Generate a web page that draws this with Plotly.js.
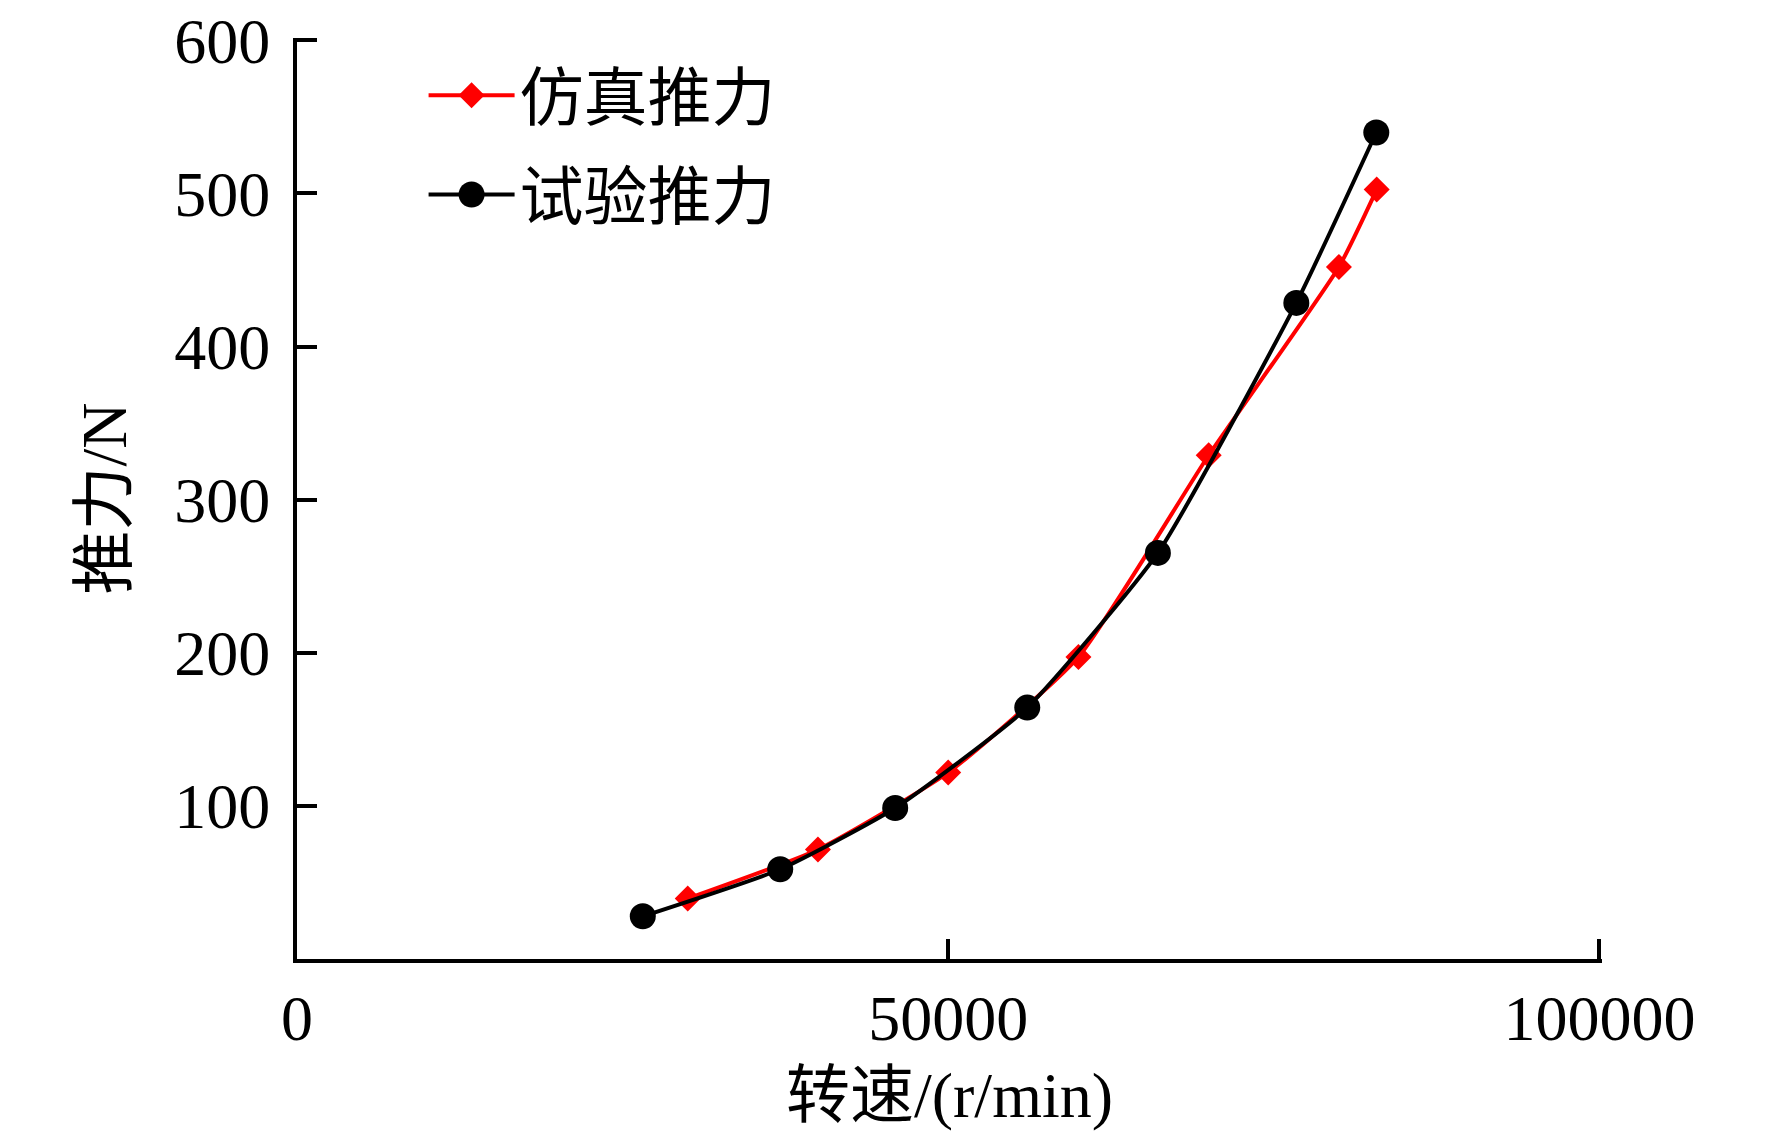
<!DOCTYPE html>
<html>
<head>
<meta charset="utf-8">
<script src="https://cdn.plot.ly/plotly-3.0.1.min.js"></script>
<style>
  html, body { margin: 0; padding: 0; background: #ffffff; }
  #chart { width: 1772px; height: 1141px; }
</style>
</head>
<body>
<div id="chart"></div>
<script>
// 仿真推力 (red diamonds)
const simSpeed = [30000, 40000, 50000, 60000, 70000, 80000, 82900];
const simThrust = [39.5, 71.5, 121.8, 197.3, 329, 452, 502.5];

// 试验推力 (black circles)
const testSpeed = [26550, 37100, 45930, 56070, 66100, 76730, 82870];
const testThrust = [27.9, 58.6, 98.6, 164.2, 265.2, 428.5, 539.8];

const xTicks = [0, 50000, 100000];
const yTicks = [100, 200, 300, 400, 500, 600];

const FONT = "'Liberation Serif', 'Times New Roman', 'Noto Sans CJK SC', serif";

const data = [
    {
        type: 'scatter',
        mode: 'lines+markers',
        name: '仿真推力',
        legendgroup: 'sim',
        x: simSpeed,
        y: simThrust,
        line: { color: '#ff0000', width: 4, shape: 'spline', smoothing: 0.5 },
        marker: { symbol: 'diamond', size: 20, color: '#ff0000' }
    },
    {
        type: 'scatter',
        mode: 'lines+markers',
        name: '试验推力',
        legendgroup: 'test',
        x: testSpeed,
        y: testThrust,
        line: { color: '#000000', width: 4, shape: 'spline', smoothing: 0.5 },
        marker: { symbol: 'circle', size: 26, color: '#000000' }
    }
];

const layout = {
    width: 1772,
    height: 1141,
    // 范围略微放宽，保证两端刻度线 (100000, 600) 不被裁掉
    margin: { l: 297, r: 170, t: 38, b: 182, pad: 0 },
    paper_bgcolor: '#ffffff',
    plot_bgcolor: '#ffffff',
    font: { family: FONT, size: 64, color: '#000000' },
    showlegend: true,
    legend: {
        x: 0.097,
        y: 0.99,
        xanchor: 'left',
        yanchor: 'top',
        bgcolor: 'rgba(0,0,0,0)',
        borderwidth: 0,
        traceorder: 'grouped',
        tracegroupgap: 13,
        itemwidth: 86,
        font: { family: FONT, size: 64, color: '#000000' }
    },
    xaxis: {
        range: [0, 100200],
        tickvals: xTicks,
        ticktext: xTicks.map(String),
        ticks: 'inside',
        ticklen: 20,
        tickwidth: 4,
        tickcolor: '#000000',
        showline: true,
        linewidth: 4,
        linecolor: '#000000',
        showgrid: false,
        zeroline: false,
        ticklabelstandoff: 0,
        tickfont: { family: FONT, size: 64, color: '#000000' },
        title: {
            text: '转速/(r/min)',
            standoff: 20,
            font: { family: FONT, size: 64, color: '#000000' }
        }
    },
    yaxis: {
        range: [0, 601.5],
        tickvals: yTicks,
        ticktext: yTicks.map(String),
        ticks: 'inside',
        ticklen: 20,
        tickwidth: 4,
        tickcolor: '#000000',
        showline: true,
        linewidth: 4,
        linecolor: '#000000',
        showgrid: false,
        zeroline: false,
        ticklabelstandoff: 10,
        tickfont: { family: FONT, size: 64, color: '#000000' },
        title: {
            text: '推力/N',
            standoff: 28,
            font: { family: FONT, size: 64, color: '#000000' }
        }
    }
};

const config = { displayModeBar: false, responsive: false };

Plotly.newPlot('chart', data, layout, config).then(gd => {
    // 图例里的标记被 Plotly 限制在 16px，这里按数据标记大小放大
    const items = gd.querySelectorAll('.legend .traces');
    items.forEach((item, i) => {
        const k = data[i].marker.size / 16;
        item.querySelectorAll('.legendpoints path.scatterpts').forEach(p => {
            const t = p.getAttribute('transform') || '';
            p.setAttribute('transform', t + ' scale(' + k + ')');
        });
    });
});
</script>
</body>
</html>
